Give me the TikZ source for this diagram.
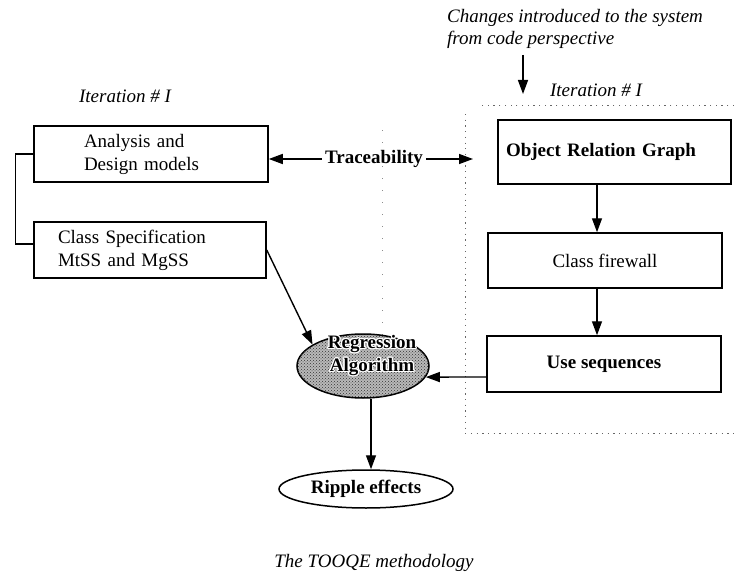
\documentclass[tikz,border=0pt]{standalone}
\usepackage{fontspec}
\setmainfont{Liberation Serif}
\usepackage{contour}
\contourlength{1.1pt}
\usetikzlibrary{arrows.meta,shapes.geometric,patterns}

\begin{document}
\begin{tikzpicture}[x=1pt,y=-1pt,
  font=\fontsize{19}{23}\selectfont,
  bold/.style={font=\fontsize{19}{23}\selectfont\bfseries},
  box/.style={draw, line width=1.5pt, inner ysep=0pt},
  arr/.style={line width=1.4pt, -{Triangle[length=14pt,width=10pt]}},
  lbl/.style={font=\fontsize{19}{22}\selectfont\itshape, inner sep=0pt},
  frameline/.style={black!60, line width=0.9pt, dash pattern=on 1.2pt off 4.5pt},
]
\useasboundingbox (0,0) rectangle (734,578);

% dotted frame around the code-side steps
\draw[frameline] (734,105) -- (478,105);
\draw[frameline] (465,114) -- (465,433) -- (734,433);
\draw[black!45, line width=0.8pt, dash pattern=on 1pt off 11pt] (382,130) -- (382,372);

% labels
\node[lbl, anchor=west, align=left] (changes) at (447,29) {Changes introduced to the system\\from code perspective};
\node[lbl] (itL) at (125,96) {Iteration \# I};
\node[lbl] (itR) at (596,90) {Iteration \# I};
\node[lbl] (cap) at (374,563) {The TOOQE methodology};

% design side
\node[box, minimum width=234pt, minimum height=56pt, text width=134pt, inner xsep=50pt, align=left] (ana) at (151,154) {Analysis and\\Design models};
\node[box, minimum width=232pt, minimum height=56pt, text width=184pt, inner xsep=24pt, align=left] (cls) at (150,250) {Class Specification\\MtSS and MgSS};

% code side
\node[box, bold, minimum width=233pt, minimum height=64pt, text width=217pt, inner xsep=8pt, align=left] (org) at (614.5,152) {Object Relation Graph};
\node[box, minimum width=234pt, minimum height=55pt] (cf) at (605,260.5) {Class firewall};
\node[box, bold, minimum width=234pt, minimum height=56pt] (us) at (604,364) {Use sequences};

\node[bold] (trace) at (374,159) {Traceability};

% regression algorithm (dotted texture, haloed text) and its result
\node[ellipse, draw, line width=1.5pt, minimum width=132pt, minimum height=64pt, inner sep=0pt,
      fill=gray!55, postaction={pattern=crosshatch dots, pattern color=black!80}] (reg) at (363,366) {};
\node[bold, align=center, inner sep=0pt] (regtxt) at (372,356) {\contour{white}{Regression}\\\contour{white}{Algorithm}};
\node[ellipse, draw, line width=1.5pt, minimum width=174pt, minimum height=38pt, inner sep=0pt, bold] (rip) at (366,489) {Ripple effects};

% free ends and shared columns
\coordinate (traceR) at (473,159);
\coordinate (chgTop) at (523,55);
\coordinate (chgTip) at (523,94);
\coordinate (flowx) at (597,0);
\coordinate (downx) at (371,0);

% connectors
\draw[line width=1.4pt] (ana.west) -- ++(-18,0) |- ([yshift=6pt]cls.west);
\draw[arr] (trace.west) -- (trace.west -| ana.east);
\draw[arr] (trace.east) -- (traceR);
\draw[arr] (chgTop) -- (chgTip);
\draw[arr] (org.south -| flowx) -- (cf.north -| flowx);
\draw[arr] (cf.south -| flowx) -- (us.north -| flowx);
\draw[arr] ([yshift=-13pt]us.west) -- (reg.-10);
\draw[arr] (cls.east) -- (reg.157);
\draw[arr] (reg.south -| downx) -- (rip.north -| downx);
\end{tikzpicture}
\end{document}
